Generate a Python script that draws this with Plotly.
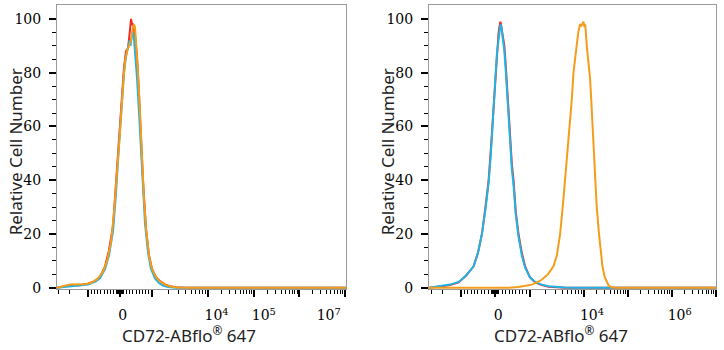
import numpy as np
import plotly.graph_objects as go

# ---------------- data (x in display units of the biexponential axis, y = relative cell number)
# Left panel
L_red_x = [0.675, 0.784, 0.916, 1.178, 1.353, 1.507, 1.616, 1.726, 1.813, 1.901, 1.966, 2.032, 2.098, 2.141,
           2.185, 2.229, 2.273, 2.295, 2.317, 2.338, 2.382, 2.426, 2.470, 2.514, 2.557, 2.623, 2.689, 2.754,
           2.842, 2.929, 3.039, 3.148, 3.280, 3.477, 7.0]
L_red_y = [0, 0.3, 0.8, 1.0, 1.5, 2.5, 4, 8, 14, 23, 38, 55, 72, 82,
           88, 89, 96, 100, 98, 98, 94, 86, 72, 55, 40, 22, 12, 7,
           4, 2.5, 1.3, 0.6, 0.2, 0, 0]

L_cyan_x = [0.675, 0.850, 1.069, 1.353, 1.507, 1.616, 1.726, 1.813, 1.901, 1.966, 2.032, 2.098, 2.141, 2.185,
            2.229, 2.262, 2.284, 2.317, 2.349, 2.382, 2.426, 2.470, 2.514, 2.557, 2.601, 2.667, 2.732, 2.820,
            2.907, 2.995, 3.104, 3.258, 7.0]
L_cyan_y = [0, 0.3, 0.8, 1.2, 2.2, 3.5, 7, 12, 21, 35, 53, 70, 80, 86,
            89, 92, 90, 94, 95, 88, 78, 65, 50, 36, 24, 13, 7, 3.5,
            1.8, 0.8, 0.3, 0, 0]

L_orange_x = [0.675, 0.806, 0.960, 1.288, 1.441, 1.572, 1.682, 1.769, 1.857, 1.923, 1.988, 2.054, 2.120, 2.163,
              2.207, 2.251, 2.295, 2.327, 2.360, 2.382, 2.415, 2.448, 2.492, 2.535, 2.579, 2.623, 2.689, 2.754,
              2.842, 2.929, 3.039, 3.148, 3.323, 3.586, 7.0]
L_orange_y = [0, 0.5, 1.2, 1.3, 2, 3.5, 6, 10, 17, 28, 42, 58, 75, 84,
              88, 90, 92, 96, 98, 97, 90, 80, 65, 48, 33, 22, 12, 7,
              4, 2.4, 1.2, 0.5, 0.1, 0, 0]

# Right panel
R_red_x = [0.53, 0.688, 0.823, 1.003, 1.200, 1.364, 1.538, 1.635, 1.725, 1.804, 1.876, 1.928, 1.961, 2.002,
           2.029, 2.063, 2.097, 2.119, 2.142, 2.164, 2.198, 2.232, 2.266, 2.304, 2.333, 2.367, 2.401, 2.439,
           2.491, 2.552, 2.626, 2.701, 2.807, 2.926, 3.077, 3.228, 3.393, 3.596, 7.01]
R_red_y = [0, 0.2, 0.6, 1.0, 2, 4.5, 8, 13, 20, 30, 40, 52, 60, 72,
           80, 88, 94, 97, 99, 97, 94, 90, 82, 72, 62, 52, 46, 40,
           28, 20, 13, 8, 4, 2, 1, 0.4, 0.1, 0, 0]

R_cyan_x = [0.53, 0.688, 0.823, 1.003, 1.200, 1.364, 1.538, 1.635, 1.725, 1.804, 1.876, 1.928, 1.961, 2.002,
            2.029, 2.063, 2.097, 2.119, 2.142, 2.164, 2.198, 2.232, 2.266, 2.304, 2.333, 2.367, 2.401, 2.439,
            2.491, 2.552, 2.626, 2.701, 2.807, 2.926, 3.077, 3.228, 3.393, 3.596, 3.82, 7.01]
R_cyan_y = [0, 0.3, 0.8, 1.2, 2.2, 4.5, 8, 13, 20, 29, 39, 50, 58, 70,
            78, 87, 93, 96, 98, 97, 93, 88, 80, 70, 60, 50, 44, 38,
            27, 19, 12, 7.5, 4, 2.2, 1.2, 0.6, 0.3, 0.1, 0, 0]

R_orange_x = [0.53, 2.131, 2.327, 2.552, 2.694, 2.852, 2.965, 3.077, 3.213, 3.341, 3.416, 3.490, 3.560, 3.620,
              3.680, 3.720, 3.754, 3.792, 3.833, 3.866, 3.900, 3.941, 3.968, 3.990, 4.017, 4.040, 4.058, 4.092,
              4.126, 4.166, 4.193, 4.220, 4.250, 4.279, 4.317, 4.369, 4.407, 4.446, 4.498, 4.543, 4.588, 4.655,
              4.746, 7.01]
R_orange_y = [0, 0, 0.05, 0.3, 0.6, 1.2, 2, 3, 5, 8, 12, 20, 32, 44,
              54, 62, 70, 80, 86, 90, 95, 98, 97.5, 98, 99, 97, 98, 90,
              85, 78, 70, 60, 50, 40, 30, 20, 13, 8, 4, 2, 0.8, 0.2,
              0, 0]

# axis text
x_title = "CD72-ABflo<sup>®</sup> 647"
y_title = "Relative Cell Number"
L_labels = [(0, "0"), (1e4, "10<sup>4</sup>"), (1e5, "10<sup>5</sup>"), (1e7, "10<sup>7</sup>")]
R_labels = [(0, "0"), (1e4, "10<sup>4</sup>"), (1e6, "10<sup>6</sup>")]
L_label_shift = [0.06, 0.18, 0.22, -0.35]
R_label_shift = [0.07, 0.19, 0.18]

RED = "#ee2a24"
CYAN = "#1fb4e6"
ORANGE = "#f59c1a"
FRAME = "#9a9a9a"


def make_T(zero, lin, up34, neg, d4, dec):
    def T(v):
        if abs(v) <= 1000:
            return zero + lin * v / 1000.0
        if v > 0:
            if v <= 1e4:
                return zero + lin + (np.log10(v) - 3) * up34
            return d4 + (np.log10(v) - 4) * dec
        return zero - lin - (np.log10(-v) - 3) * neg
    return T


T_L = make_T(2.054, 0.70, 1.232, 1.35, 3.986, 0.995)
T_R = make_T(2.025, 0.78, 1.215, 1.40, 4.02, 0.995)
L_range = [0.675, 7.0]
R_range = [0.53, 7.01]

major_vals = [-1e4, -1e3, 0, 1e3, 1e4, 1e5, 1e6, 1e7]
minor_vals = ([s * 10 * k for s in (-1, 1) for k in range(1, 10)] +
              [s * 100 * k for s in (-1, 1) for k in range(1, 10)] +
              [m * 10 ** e for e in range(3, 7) for m in range(2, 10)] +
              [-m * 10 ** e for e in range(3, 5) for m in range(2, 10)])

fig = go.Figure()
line_w = 2
for xs, ys, c in [(L_red_x, L_red_y, RED), (L_cyan_x, L_cyan_y, CYAN), (L_orange_x, L_orange_y, ORANGE)]:
    fig.add_trace(go.Scatter(x=xs, y=ys, mode="lines", line=dict(color=c, width=line_w),
                             xaxis="x", yaxis="y", showlegend=False, hoverinfo="skip"))
for xs, ys, c in [(R_red_x, R_red_y, RED), (R_cyan_x, R_cyan_y, CYAN), (R_orange_x, R_orange_y, ORANGE)]:
    fig.add_trace(go.Scatter(x=xs, y=ys, mode="lines", line=dict(color=c, width=line_w),
                             xaxis="x2", yaxis="y2", showlegend=False, hoverinfo="skip"))
# empty traces to register the label axes
fig.add_trace(go.Scatter(x=[None], y=[None], xaxis="x3", yaxis="y", showlegend=False, hoverinfo="skip"))
fig.add_trace(go.Scatter(x=[None], y=[None], xaxis="x4", yaxis="y2", showlegend=False, hoverinfo="skip"))

dom_L = [57 / 724, 346 / 724]
dom_R = [429 / 724, 716 / 724]
dom_y = [(350 - 294.5) / 350, (350 - 5) / 350]
y_range = [-0.6, 105.2]

serif = "DejaVu Serif"
sans = "Noto Sans"


def x_tick_axis(T, rng, dom, anchor):
    ok = [v for v in major_vals if rng[0] - 1e-9 <= T(v) <= rng[1] + 1e-9]
    return dict(domain=dom, range=rng, anchor=anchor, showgrid=False, zeroline=False,
                showline=True, linecolor=FRAME, linewidth=1, mirror=True,
                tickmode="array", tickvals=[T(v) for v in ok], showticklabels=False,
                ticks="outside", ticklen=7, tickwidth=2, tickcolor="black",
                minor=dict(tickmode="array",
                           tickvals=[T(v) for v in minor_vals if rng[0] <= T(v) <= rng[1]],
                           ticks="outside", ticklen=4, tickwidth=1, tickcolor="black"),
                layer="below traces")


def x_label_axis(T, rng, labels, shifts, over, anchor):
    return dict(range=rng, overlaying=over, anchor=anchor, side="bottom", showgrid=False,
                zeroline=False, showline=False, ticks="",
                tickmode="array", tickvals=[T(v) + s for (v, _), s in zip(labels, shifts)],
                ticktext=[t for _, t in labels], ticklabelstandoff=16,
                tickfont=dict(family=serif, size=14, color="black"))


def y_axis(dom, anchor):
    return dict(domain=dom, range=y_range, anchor=anchor, showgrid=False, zeroline=False,
                showline=True, linecolor=FRAME, linewidth=1, mirror=True,
                tickmode="array", tickvals=[0, 20, 40, 60, 80, 100],
                ticks="outside", ticklen=7, tickwidth=1.5, tickcolor="black",
                ticklabelstandoff=5,
                minor=dict(tickmode="array", tickvals=[5, 10, 15, 25, 30, 35, 45, 50, 55, 65, 70, 75, 85, 90, 95],
                           ticks="outside", ticklen=4, tickwidth=1, tickcolor="black"),
                tickfont=dict(family=serif, size=14, color="black"))


title_font = dict(family=sans, size=17, color="#222")
fig.update_layout(
    width=724, height=350, margin=dict(l=0, r=0, t=0, b=0),
    paper_bgcolor="white", plot_bgcolor="white",
    xaxis=x_tick_axis(T_L, L_range, dom_L, "y"),
    xaxis2=x_tick_axis(T_R, R_range, dom_R, "y2"),
    xaxis3=x_label_axis(T_L, L_range, L_labels, L_label_shift, "x", "y"),
    xaxis4=x_label_axis(T_R, R_range, R_labels, R_label_shift, "x2", "y2"),
    yaxis=y_axis(dom_y, "x"),
    yaxis2=y_axis(dom_y, "x2"),
    annotations=[
        dict(text=y_title, xref="paper", yref="paper", x=15 / 724, y=1 - 155 / 350, textangle=-90,
             showarrow=False, xanchor="center", yanchor="middle", font=title_font),
        dict(text=y_title, xref="paper", yref="paper", x=387 / 724, y=1 - 155 / 350, textangle=-90,
             showarrow=False, xanchor="center", yanchor="middle", font=title_font),
        dict(text=x_title, xref="paper", yref="paper", x=189 / 724, y=1 - 340.5 / 350,
             showarrow=False, xanchor="center", yanchor="middle", font=title_font),
        dict(text=x_title, xref="paper", yref="paper", x=561 / 724, y=1 - 340.5 / 350,
             showarrow=False, xanchor="center", yanchor="middle", font=title_font),
    ],
)

fig.write_html("out.html")
